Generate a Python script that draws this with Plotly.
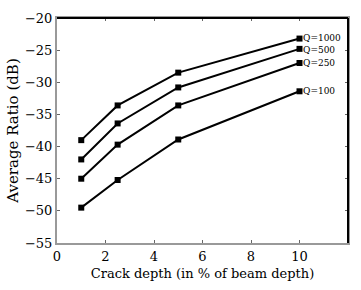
import plotly.graph_objects as go

crack_depth = [1, 2.5, 5, 10]
q1000 = [-39.0, -33.6, -28.5, -23.2]
q500 = [-42.0, -36.4, -30.8, -24.8]
q250 = [-45.0, -39.7, -33.6, -27.0]
q100 = [-49.5, -45.2, -38.9, -31.4]
series_names = ["Q=1000", "Q=500", "Q=250", "Q=100"]
series_values = [q1000, q500, q250, q100]
label_shift = [1, -1, 0, 0]

x_ticks = [0, 2, 4, 6, 8, 10]
y_ticks = [-55, -50, -45, -40, -35, -30, -25, -20]

fig = go.Figure()
for name, vals, ys in zip(series_names, series_values, label_shift):
    fig.add_trace(go.Scatter(
        x=crack_depth, y=vals, mode="lines+markers", name=name,
        line=dict(color="black", width=2),
        marker=dict(symbol="square", size=6, color="black"),
        showlegend=False,
    ))
    fig.add_annotation(x=crack_depth[-1], y=vals[-1], text=name, showarrow=False,
                       xanchor="left", xshift=2, yshift=ys, yanchor="middle", borderpad=0,
                       font=dict(family="DejaVu Serif", size=9, color="black"))

serif = "DejaVu Serif"
fig.update_layout(
    width=361, height=290,
    margin=dict(l=53, r=11, t=16, b=47),
    paper_bgcolor="white", plot_bgcolor="white",
    font=dict(family=serif, size=13, color="black"),
    xaxis=dict(range=[0, 12], tickvals=x_ticks, showgrid=False, zeroline=False,
               showline=True, linecolor="#999999", linewidth=2,
               ticks="inside", ticklen=3, tickcolor="#666666", mirror="ticks",
               title=dict(text="Crack depth (in % of beam depth)", font=dict(family=serif, size=13), standoff=6),
               tickfont=dict(family=serif, size=13)),
    yaxis=dict(range=[-55, -20], tickvals=y_ticks, showgrid=False, zeroline=False,
               showline=True, linecolor="#999999", linewidth=2,
               ticks="inside", ticklen=3, tickcolor="#666666", mirror="ticks",
               title=dict(text="Average Ratio (dB)", font=dict(family=serif, size=15), standoff=3),
               tickfont=dict(family=serif, size=13)),
    shapes=[
        dict(type="line", xref="paper", yref="paper", x0=0, x1=1, y0=1, y1=1,
             line=dict(color="black", width=2)),
        dict(type="line", xref="paper", yref="paper", x0=1, x1=1, y0=0, y1=1,
             line=dict(color="black", width=2)),
    ],
)
fig.write_html("out.html")
